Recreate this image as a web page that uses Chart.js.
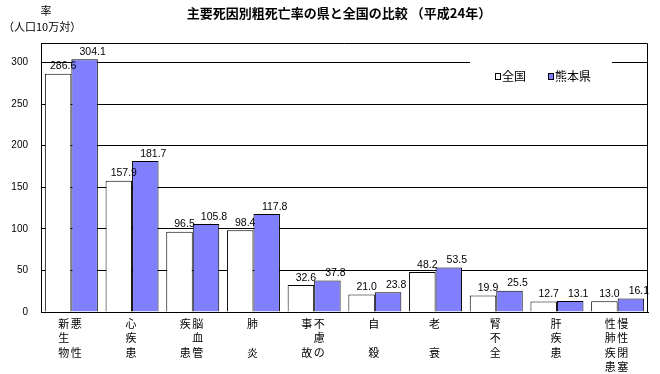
<!DOCTYPE html>
<html><head><meta charset="utf-8">
<script src="https://cdn.jsdelivr.net/npm/chart.js@4/dist/chart.umd.min.js"></script>
<style>html,body{margin:0;padding:0;background:#fff;} #wrap{width:660px;height:374px;position:relative;}</style>
</head><body><div id="wrap"><canvas id="c" width="660" height="374"></canvas></div>
<script>
const chartTitle = '主要死因別粗死亡率の県と全国の比較 （平成24年）';
const yTitleTop = '率';
const yTitleSub = '（人口10万対）';
const categories = ['悪性新生物','心疾患','脳血管疾患','肺炎','不慮の事故','自殺','老衰','腎不全','肝疾患','慢性閉塞性肺疾患'];
// vertical label rows (left column char, right column char); '　' = blank cell
const labelRows = [
  ['新悪','生　','物性'],
  ['心','疾','患'],
  ['疾脳','　血','患管'],
  ['肺','　','炎'],
  ['事不','　慮','故の'],
  ['自','　','殺'],
  ['老','　','衰'],
  ['腎','不','全'],
  ['肝','疾','患'],
  ['性慢','肺性','疾閉','患塞']
];
const seriesNames = ['全国','熊本県'];
const national = [286.6,157.9,96.5,98.4,32.6,21.0,48.2,19.9,12.7,13.0];
const kumamoto = [304.1,181.7,105.8,117.8,37.8,23.8,53.5,25.5,13.1,16.1];
const yTicks = [0,50,100,150,200,250,300];

const CJK = '"Noto Sans CJK JP", "Noto Sans", sans-serif';
const LAT = '"Liberation Sans", Arial, sans-serif';

const decor = {
  id:'decor',
  afterDatasetsDraw(chart){
    const ctx = chart.ctx;
    ctx.save();
    ctx.fillStyle = '#000';
    ctx.font = '10.5px ' + LAT;
    ctx.textAlign = 'center';
    ctx.textBaseline = 'bottom';
    chart.data.datasets.forEach((ds, di) => {
      const meta = chart.getDatasetMeta(di);
      meta.data.forEach((el, i) => {
        const off = di === 0 ? 5 : 8;
        ctx.fillText(ds.data[i].toFixed(1), el.x + off, el.y - 2);
      });
    });
    ctx.restore();
  },
  afterDraw(chart){
    const ctx = chart.ctx;
    const a = chart.chartArea;
    ctx.save();
    // frame top & right
    ctx.strokeStyle = '#000';
    ctx.lineWidth = 1;
    ctx.beginPath();
    ctx.moveTo(a.left, Math.round(a.top) + 0.5);
    ctx.lineTo(Math.round(a.right) - 0.5, Math.round(a.top) + 0.5);
    ctx.lineTo(Math.round(a.right) - 0.5, Math.round(a.bottom));
    ctx.stroke();
    // legend box
    ctx.fillStyle = '#fff';
    ctx.fillRect(470, 52, 142, 46);
    const items = [{x:495, t:seriesNames[0], c:'#FFFFFF'},{x:548, t:seriesNames[1], c:'#8080FF'}];
    ctx.font = '12px ' + CJK;
    ctx.textBaseline = 'middle';
    ctx.textAlign = 'left';
    items.forEach(it => {
      ctx.fillStyle = it.c;
      ctx.fillRect(it.x + 0.5, 73.5, 5, 6);
      ctx.strokeStyle = '#000';
      ctx.strokeRect(it.x + 0.5, 73.5, 5, 6);
      ctx.fillStyle = '#000';
      ctx.fillText(it.t, it.x + 7, 76.5);
    });
    // title
    ctx.font = 'bold 13px ' + CJK;
    ctx.textAlign = 'center';
    ctx.fillText(chartTitle, 339, 13);
    // y title
    ctx.font = '11px ' + CJK;
    ctx.fillText(yTitleTop, 46, 11);
    ctx.textAlign = 'left';
    ctx.fillText(yTitleSub, 3, 27);
    // x labels
    const xs = chart.scales.x;
    ctx.font = '11px ' + CJK;
    ctx.textAlign = 'center';
    labelRows.forEach((rows, i) => {
      const c = xs.getPixelForValue(i);
      rows.forEach((row, r) => {
        const chars = Array.from(row);
        const y = 324 + r * 14.3;
        chars.forEach((ch, j) => {
          if (ch === '　') return;
          const x = chars.length === 1 ? c - 1 : c - 7.5 + j * 12.5;
          ctx.fillText(ch, x, y);
        });
      });
    });
    ctx.restore();
  }
};

new Chart(document.getElementById('c'), {
  type:'bar',
  data:{
    labels: categories,
    datasets:[
      {label:seriesNames[0], data:national, backgroundColor:'#FFFFFF', borderColor:'#000000', borderWidth:1, categoryPercentage:0.873, barPercentage:1.0},
      {label:seriesNames[1], data:kumamoto, backgroundColor:'#8080FF', borderColor:'#000000', borderWidth:1, categoryPercentage:0.873, barPercentage:1.0}
    ]
  },
  options:{
    responsive:false, animation:false, devicePixelRatio:1,
    layout:{padding:{top:43, right:12, left:0, bottom:0}},
    plugins:{legend:{display:false}, title:{display:false}, tooltip:{enabled:false}},
    scales:{
      x:{
        grid:{display:false},
        border:{display:true, color:'#000', width:1},
        ticks:{display:false},
        afterFit(s){ s.height = 62; }
      },
      y:{
        min:0, max:323.5,
        ticks:{stepSize:50, color:'#000', font:{family:LAT, size:10}, padding:13},
        afterBuildTicks(s){ s.ticks = yTicks.map(v => ({value:v})); },
        grid:{color:'#000', lineWidth:1, drawTicks:false},
        border:{display:true, color:'#000', width:1},
        afterFit(s){ s.width = 41; }
      }
    }
  },
  plugins:[decor]
});
</script>
</body></html>
